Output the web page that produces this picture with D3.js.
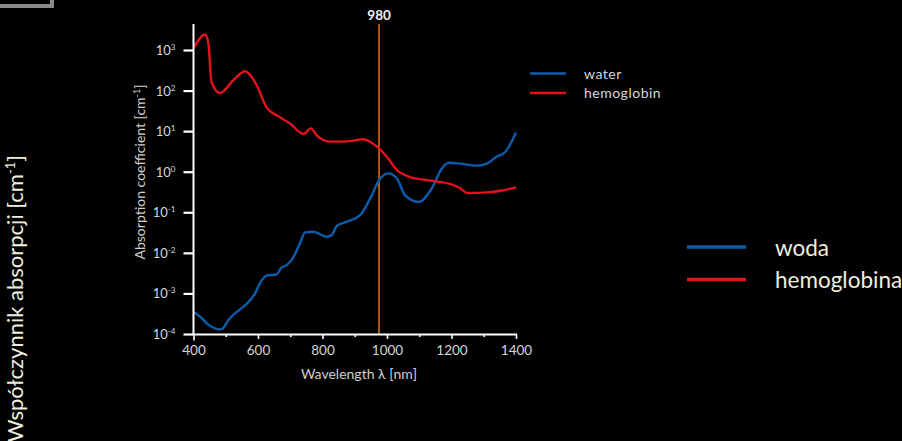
<!DOCTYPE html>
<html>
<head>
<meta charset="utf-8">
<script src="https://cdn.jsdelivr.net/npm/d3@7"></script>
<style>
  html, body { margin: 0; padding: 0; background: #000; }
  svg { display: block; }
</style>
</head>
<body>
<script>
// ---- data ----
const hemoWavelength = [400, 436, 446, 456, 482, 524, 560, 586, 596, 627, 658, 699, 741, 764, 782, 824, 876, 927, 953, 976, 1000, 1031, 1072, 1124, 1206, 1227, 1248, 1310, 1362, 1400];
const hemoValues = [1100, 2400, 1480, 160, 87, 182, 300, 186, 135, 38, 24.5, 15.5, 8.5, 11.7, 7.9, 5.5, 5.6, 6.3, 5.1, 3.7, 2.3, 1.1, 0.74, 0.62, 0.47, 0.39, 0.30, 0.31, 0.35, 0.41];

const waterWavelength = [400, 420, 446, 482, 492, 508, 524, 555, 591, 606, 627, 658, 671, 689, 710, 730, 746, 772, 813, 829, 844, 876, 917, 948, 979, 1005, 1031, 1056, 1098, 1139, 1170, 1191, 1227, 1279, 1310, 1336, 1367, 1400];
const waterValues = [3.5e-4, 2.7e-4, 1.7e-4, 1.3e-4, 1.4e-4, 2.2e-4, 3.0e-4, 4.7e-4, 1.0e-3, 1.8e-3, 2.75e-3, 2.95e-3, 4.2e-3, 5.0e-3, 7.9e-3, 0.017, 0.032, 0.033, 0.025, 0.0275, 0.046, 0.059, 0.085, 0.22, 0.68, 0.91, 0.68, 0.26, 0.18, 0.39, 1.2, 1.66, 1.58, 1.41, 1.58, 2.24, 3.1, 9.3];

const xTicks = [400, 500, 600, 700, 800, 900, 1000, 1100, 1200, 1300, 1400];
const xLabelTicks = [400, 600, 800, 1000, 1200, 1400];
const yTickExponents = [-4, -3, -2, -1, 0, 1, 2, 3];
const markerWavelength = 980;
const markerLabel = "980";
const seriesNames = ["water", "hemoglobin"];
const seriesNamesPl = ["woda", "hemoglobina"];
const xTitle = "Wavelength λ [nm]";
const yTitle = "Absorption coefficient [cm";
const bigYTitle = "Współczynnik absorpcji [cm";

// ---- drawing ----
const W = 902, H = 441;
const blue = "#0b5cab", red = "#e5121c", orange = "#d86a1c";
const font = "Lato, 'Open Sans', sans-serif";

const svg = d3.select("body").append("svg").attr("width", W).attr("height", H)
  .style("background", "#000");

// top-left grey frame fragment
svg.append("path").attr("d", "M0,6 H52 V0")
  .attr("fill", "none").attr("stroke", "#8a8a8a").attr("stroke-width", 4);

const x = d3.scaleLinear().domain([400, 1400]).range([193.5, 516]);
const y = d3.scaleLog().domain([1e-4, Math.pow(10, 3.616)]).range([334, 25]);

// marker line
svg.append("line")
  .attr("x1", x(markerWavelength) - 1.5).attr("x2", x(markerWavelength) - 1.5)
  .attr("y1", 24).attr("y2", 334)
  .attr("stroke", orange).attr("stroke-width", 1.6);
svg.append("text").attr("x", x(markerWavelength) - 1.5).attr("y", 20)
  .attr("text-anchor", "middle").attr("font-family", font).attr("font-weight", "bold")
  .attr("font-size", 13.5).attr("fill", "#f2f2f2").text(markerLabel);

// lines
const lineGen = d3.line().x(d => x(d[0])).y(d => y(d[1])).curve(d3.curveMonotoneX);
const waterData = waterWavelength.map((w, i) => [w, waterValues[i]]);
const hemoData = hemoWavelength.map((w, i) => [w, hemoValues[i]]);

svg.append("path").datum(waterData).attr("d", lineGen)
  .attr("fill", "none").attr("stroke", blue).attr("stroke-width", 2.4);
svg.append("path").datum(hemoData).attr("d", lineGen)
  .attr("fill", "none").attr("stroke", red).attr("stroke-width", 2.4);

// x axis
const xAxis = svg.append("g").attr("transform", "translate(0,334.5)")
  .call(d3.axisBottom(x).tickValues(xTicks).tickSizeOuter(0)
    .tickSize(0).tickFormat(""));
xAxis.select(".domain").attr("stroke", "#fff").attr("stroke-width", 2)
  .attr("d", `M${x(400) - 1},0H${x(1400) + 1}`);
xAxis.selectAll(".tick line")
  .attr("stroke", "#fff").attr("stroke-width", 1.6)
  .attr("y2", d => xLabelTicks.includes(d) ? (d === 400 ? 6 : 4.5) : 2.5);
xAxis.selectAll(".tick").filter(d => xLabelTicks.includes(d)).append("text")
  .attr("y", 20).attr("fill", "#d6d6d6").attr("font-family", font)
  .attr("font-size", 13.5).attr("text-anchor", "middle").text(d => d);

svg.append("text").attr("x", 359).attr("y", 379).attr("text-anchor", "middle")
  .attr("font-family", font).attr("font-size", 14).attr("fill", "#cfcfcf").text(xTitle);

// y axis
const yAxis = svg.append("g").attr("transform", "translate(193.5,0)")
  .call(d3.axisLeft(y).tickValues(yTickExponents.map(e => Math.pow(10, e)))
    .tickSizeOuter(0).tickSize(10).tickFormat(""));
yAxis.select(".domain").attr("stroke", "#fff").attr("stroke-width", 2)
  .attr("d", "M0,24V335");
yAxis.selectAll(".tick line").attr("stroke", "#fff").attr("stroke-width", 2.2);
yAxis.selectAll(".tick").each(function (d) {
  const t = d3.select(this).append("text")
    .attr("x", -18).attr("dy", "0.35em").attr("fill", "#d6d6d6")
    .attr("font-family", font).attr("font-size", 13).attr("text-anchor", "end");
  t.append("tspan").text("10");
  t.append("tspan").attr("dy", -5).attr("font-size", 8).text(Math.round(Math.log10(d)));
});

const yt = svg.append("text").attr("transform", "translate(145,172) rotate(-90)")
  .attr("text-anchor", "middle").attr("font-family", font).attr("font-size", 14)
  .attr("fill", "#cfcfcf");
yt.append("tspan").text(yTitle);
yt.append("tspan").attr("dy", -5).attr("font-size", 9).text("-1");
yt.append("tspan").attr("dy", 5).text("]");

// small legend
const smallColors = [blue, red];
seriesNames.forEach((n, i) => {
  const yy = 73.5 + i * 19.5;
  svg.append("line").attr("x1", 530).attr("x2", 566).attr("y1", yy).attr("y2", yy)
    .attr("stroke", smallColors[i]).attr("stroke-width", 2.4);
  svg.append("text").attr("x", 584).attr("y", yy + 5).attr("font-family", font)
    .attr("font-size", 14).attr("letter-spacing", 0.5).attr("fill", "#d6d6d6").text(n);
});

// big legend
seriesNamesPl.forEach((n, i) => {
  const yy = 247 + i * 32.5;
  svg.append("line").attr("x1", 687).attr("x2", 746).attr("y1", yy).attr("y2", yy)
    .attr("stroke", smallColors[i]).attr("stroke-width", 3.6);
  svg.append("text").attr("x", 775).attr("y", yy + 8.5).attr("font-family", font)
    .attr("font-size", 22.5).attr("fill", "#eeeede").text(n);
});

// big rotated y title
const by = svg.append("text").attr("transform", "translate(23,155) rotate(-90)")
  .attr("text-anchor", "end").attr("font-family", font).attr("font-size", 22)
  .attr("fill", "#eeeede");
by.append("tspan").text(bigYTitle);
by.append("tspan").attr("dy", -8).attr("font-size", 13).text("-1");
by.append("tspan").attr("dy", 8).text("]");
</script>
</body>
</html>
